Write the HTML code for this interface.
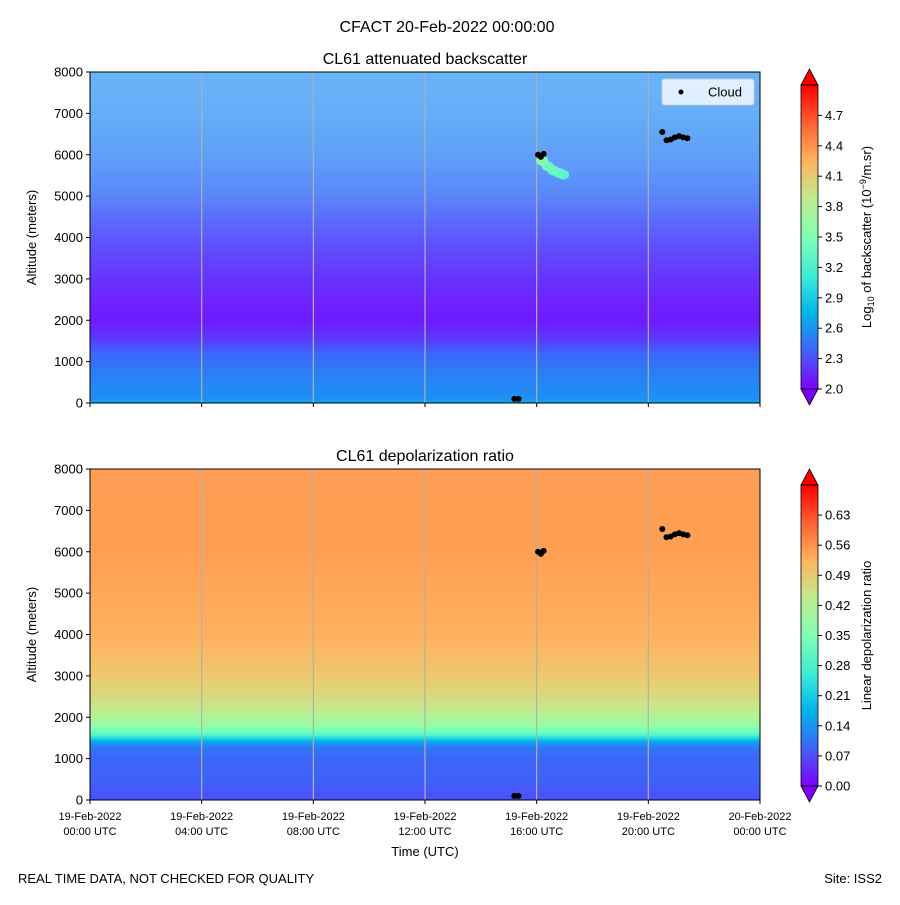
<!DOCTYPE html>
<html><head><meta charset="utf-8"><style>
body{margin:0;background:#fff}
svg text{font-family:"Liberation Sans","DejaVu Sans",sans-serif;fill:#000}
</style></head><body>
<svg id="chart" width="900" height="900" viewBox="0 0 900 900">
<defs>
<linearGradient id="cbg" x1="0" y1="1" x2="0" y2="0">
<stop offset="0" stop-color="#8000ff"/><stop offset="0.125" stop-color="#4062fa"/><stop offset="0.25" stop-color="#00b5eb"/><stop offset="0.375" stop-color="#40ecd4"/><stop offset="0.5" stop-color="#80ffb4"/><stop offset="0.625" stop-color="#c0eb8d"/><stop offset="0.75" stop-color="#ffb360"/><stop offset="0.875" stop-color="#ff6030"/><stop offset="1" stop-color="#ff0000"/>
</linearGradient>
</defs>
<text x="447" y="32" font-size="16" text-anchor="middle">CFACT 20-Feb-2022 00:00:00</text>
<g id="top"></g><g id="bot"></g>
<text x="18" y="883" font-size="13">REAL TIME DATA, NOT CHECKED FOR QUALITY</text>
<text x="882" y="883" font-size="13" text-anchor="end">Site: ISS2</text>
</svg>
<script>
// time ticks (hours) and labels
const tickHours=[0,4,8,12,16,20,24];
const tickLabels1=["19-Feb-2022","19-Feb-2022","19-Feb-2022","19-Feb-2022","19-Feb-2022","19-Feb-2022","20-Feb-2022"];
const tickLabels2=["00:00 UTC","04:00 UTC","08:00 UTC","12:00 UTC","16:00 UTC","20:00 UTC","00:00 UTC"];
const altTicks=[0,1000,2000,3000,4000,5000,6000,7000,8000];
// backscatter profile
const bsAlt=[0,100,300,700,1200,1600,2000,2500,3000,3500,4000,4500,5000,5500,6000,7000,8000];
const bsVal=[2.75,2.58,2.55,2.5,2.4,2.2,2.1,2.12,2.17,2.22,2.28,2.35,2.42,2.47,2.5,2.55,2.57];
const bsWhite=[0,0,0,0,0,0,0,0.02,0.03,0.05,0.08,0.12,0.17,0.21,0.25,0.3,0.33];
const bsTicks=[2.0,2.3,2.6,2.9,3.2,3.5,3.8,4.1,4.4,4.7];
// depolarization profile
const dpAlt=[0,300,600,1000,1300,1450,1600,1800,2100,2500,3000,4000,6000,8000];
const dpVal=[0.07,0.08,0.09,0.09,0.11,0.18,0.3,0.38,0.43,0.47,0.5,0.53,0.55,0.55];
const dpTicks=[0,0.07,0.14,0.21,0.28,0.35,0.42,0.49,0.56,0.63];
// cloud detections (hour, altitude)
const cloudT=[16.05,16.15,16.25,20.5,20.65,20.8,20.95,21.1,21.25,21.4,15.2,15.35];
const cloudA=[6000,5950,6020,6550,6350,6370,6420,6450,6420,6400,100,100];
// aerosol plume (hour, altitude, log bs)
const plumeT=[16.2,16.4,16.6,16.8,16.95];
const plumeA=[5850,5720,5620,5560,5520];
const plumeV=[3.6,3.45,3.4,3.35,3.3];

const NS="http://www.w3.org/2000/svg";
const X0=90,X1=760;
const xs=h=>X0+h*(X1-X0)/24;
function rainbow(x){x=Math.max(0,Math.min(1,x));
 let r=Math.min(1,Math.abs(2*x-0.5)),g=Math.sin(Math.PI*x),b=Math.cos(Math.PI*x/2);return [r*255,g*255,b*255];}
function mk(tag,attrs,parent){const e=document.createElementNS(NS,tag);for(const k in attrs)e.setAttribute(k,attrs[k]);parent.appendChild(e);return e;}
function interp(xa,ya,x){for(let i=0;i<xa.length-1;i++){if(x<=xa[i+1]){const f=(x-xa[i])/(xa[i+1]-xa[i]);return ya[i]+f*(ya[i+1]-ya[i]);}}return ya[ya.length-1];}
function rgb(c){return `rgb(${c.map(v=>Math.round(v)).join(',')})`;}

function panel(g,Y0,Y1,title,alts,vals,whites,vmin,vmax,cbTop,cbBot,cbTicks,cbFmt,cbLabel,prefix){
 const ys=a=>Y1-a*(Y1-Y0)/8000;
 for(let a=0;a<8000;a+=50){
  const v=interp(alts,vals,a+25);const w=whites?interp(alts,whites,a+25):0;
  let c=rainbow((v-vmin)/(vmax-vmin));c=c.map(q=>q*(1-w)+255*w);
  const r=mk('rect',{x:X0,y:ys(a+50),width:X1-X0,height:ys(a)-ys(a+50)+0.5,fill:rgb(c)},g);
  
  
 }
 tickHours.slice(1,6).forEach(h=>{const l=mk('line',{x1:xs(h),x2:xs(h),y1:Y0,y2:Y1,stroke:'#b0b0b0','stroke-width':1.2},g);
  });
 const ax=mk('rect',{x:X0,y:Y0,width:X1-X0,height:Y1-Y0,fill:'none',stroke:'#000','stroke-width':1},g);
 
 const t=mk('text',{x:(X0+X1)/2,y:Y0-8,'font-size':16,'text-anchor':'middle'},g);t.textContent=title;
 
 altTicks.forEach(a=>{mk('line',{x1:X0-4,x2:X0,y1:ys(a),y2:ys(a),stroke:'#000'},g);
  const tt=mk('text',{x:X0-7,y:ys(a)+4.5,'font-size':13,'text-anchor':'end'},g);tt.textContent=a;
  });
 tickHours.forEach(h=>mk('line',{x1:xs(h),x2:xs(h),y1:Y1,y2:Y1+4,stroke:'#000'},g));
 const yl=mk('text',{x:0,y:0,'font-size':13,'text-anchor':'middle',transform:`translate(36,${(Y0+Y1)/2}) rotate(-90)`},g);yl.textContent='Altitude (meters)';
 
 const cx=801,cw=17,cs=(cbBot-cbTop)/(vmax-vmin);
 const bodyTop=cbTop,bodyBot=cbBot;
 const cb=mk('rect',{x:cx,y:bodyTop,width:cw,height:bodyBot-bodyTop,fill:'url(#cbg)'},g);
 
 mk('polygon',{points:`${cx},${bodyTop} ${cx+cw/2},${bodyTop-16} ${cx+cw},${bodyTop}`,fill:'#ff0000',stroke:'#000','stroke-width':0.8},g);
 mk('polygon',{points:`${cx},${bodyBot} ${cx+cw/2},${bodyBot+16} ${cx+cw},${bodyBot}`,fill:'#8000ff',stroke:'#000','stroke-width':0.8},g);
 mk('rect',{x:cx,y:bodyTop,width:cw,height:bodyBot-bodyTop,fill:'none',stroke:'#000','stroke-width':0.8},g);
 cbTicks.forEach(v=>{const y=cbBot-(v-vmin)*cs;mk('line',{x1:cx+cw,x2:cx+cw+4,y1:y,y2:y,stroke:'#000'},g);
  const tt=mk('text',{x:cx+cw+7,y:y+4.5,'font-size':13},g);tt.textContent=v.toFixed(cbFmt);
  });
 const cl=mk('text',{x:0,y:0,'font-size':13,'text-anchor':'middle',transform:`translate(871,${(bodyTop+bodyBot)/2}) rotate(-90)`},g);cl.innerHTML=cbLabel;
 
 return ys;
}
const gt=document.getElementById('top'),gb=document.getElementById('bot');
const ysT=panel(gt,72,403,'CL61 attenuated backscatter',bsAlt,bsVal,bsWhite,2.0,5.0,85,389,bsTicks,1,'Log<tspan font-size="9" dy="3">10</tspan><tspan dy="-3"> of backscatter (10</tspan><tspan font-size="9" dy="-5">−9</tspan><tspan dy="5">/m.sr)</tspan>','backscatter');
const ysB=panel(gb,469,800,'CL61 depolarization ratio',dpAlt,dpVal,null,0,0.7,485,786,dpTicks,2,'Linear depolarization ratio','depol');
plumeT.forEach((h,i)=>{const e=mk('ellipse',{cx:xs(h),cy:ysT(plumeA[i]),rx:6,ry:5,fill:rgb(rainbow((plumeV[i]-2)/3)),opacity:0.9},gt);
 });
[[gt,ysT],[gb,ysB]].forEach(([g,ys])=>{cloudT.forEach((h,i)=>{
 const c=mk('circle',{cx:xs(h),cy:ys(cloudA[i]),r:3,fill:'#000'},g);
 });});
tickHours.forEach((h,i)=>{
 const t=mk('text',{x:xs(h),y:820,'font-size':11,'text-anchor':'middle'},gb);
 t.innerHTML=`<tspan x="${xs(h)}">${tickLabels1[i]}</tspan><tspan x="${xs(h)}" dy="15">${tickLabels2[i]}</tspan>`;
 });
const xl=mk('text',{x:425,y:856,'font-size':13,'text-anchor':'middle'},gb);xl.textContent='Time (UTC)';

const lg=mk('g',{},gt);

mk('rect',{x:662,y:79,width:92,height:26,rx:3,fill:'#fff','fill-opacity':0.8,stroke:'#ccc'},lg);
mk('circle',{cx:681,cy:92,r:2.5,fill:'#000'},lg);
const lt=mk('text',{x:708,y:96.5,'font-size':13},lg);lt.textContent='Cloud';

</script>
</body></html>
